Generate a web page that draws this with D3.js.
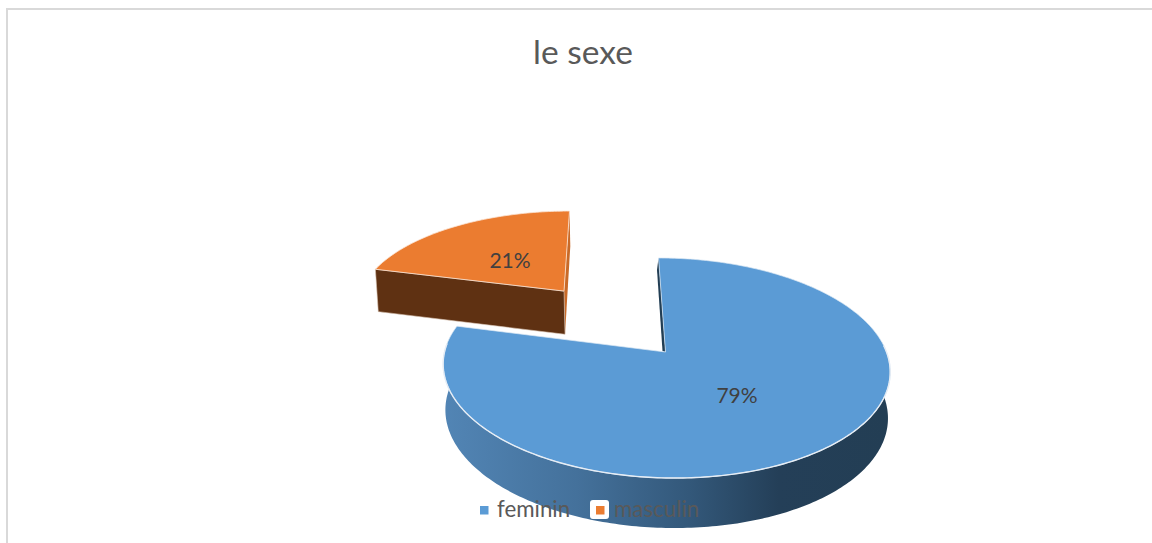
<!DOCTYPE html>
<html><head><meta charset="utf-8">
<script src="https://cdn.jsdelivr.net/npm/d3@7/dist/d3.min.js"></script>
<style>html,body{margin:0;padding:0;background:#fff}svg{display:block}text{font-family:Lato,"Open Sans",sans-serif}</style>
</head><body><svg id="c" width="1152" height="543"></svg>
<script>
const title = "le sexe";
const categories = ["feminin", "masculin"];
const values = [79, 21];
const labels = ["79%", "21%"];
const topColors = ["#5b9bd5", "#eb7c30"];

const W = 1152, H = 543;
const svg = d3.select("#c");
const defs = svg.append("defs");

// 3D pie model
const apex = [665.5, 352], P = 0.1455, KY = 107.7, KX = 221, SKEW = -8, DEPTH = 45.5, EXPLODE = [0, 0.78];

function project(X, Z, low) {
  const w = 1 + P * Z;
  let x = apex[0] + (KX * X + SKEW * Z) / w;
  let y = apex[1] - KY * Z / w;
  if (low) { x = apex[0] + (x - apex[0]) * 0.99; y += DEPTH / Math.pow(w, 0.6); }
  return [x, y];
}
const arcs = d3.pie().sort(null)(values);
const line = d3.line();

function arcPts(a0, a1, ox, oz, low) {
  const n = Math.max(2, Math.round(Math.abs(a1 - a0) * 60));
  return d3.range(n + 1).map(i => {
    const t = a0 + (a1 - a0) * i / n;
    return project(ox + Math.sin(t), oz + Math.cos(t), low);
  });
}
function offset(i) {
  const a = arcs[i], mid = (a.startAngle + a.endAngle) / 2, e = EXPLODE[i];
  return [e * Math.sin(mid), e * Math.cos(mid)];
}

// background frame
svg.append("rect").attr("width", W).attr("height", H).attr("fill", "#fff");
svg.append("path").attr("d", `M7,${H}V9H${W}`).attr("fill", "none").attr("stroke", "#d9d9d9").attr("stroke-width", 2);

// title
svg.append("text").attr("x", 583).attr("y", 64).attr("text-anchor", "middle")
  .attr("font-size", 33.5).attr("fill", "#595959").text(title);

// wall gradient of the big slice
const grad = defs.append("linearGradient").attr("id", "wall").attr("gradientUnits", "userSpaceOnUse")
  .attr("x1", 443).attr("x2", 890).attr("y1", 0).attr("y2", 0);
[[0, "#5285b5"], [0.3, "#44719b"], [0.55, "#33587a"], [0.75, "#243f58"], [1, "#233e54"]]
  .forEach(s => grad.append("stop").attr("offset", s[0]).attr("stop-color", s[1]));

// big slice (feminin): inner wall, outer wall, top
{
  const a = arcs[0], [ox, oz] = offset(0);
  const a0 = a.startAngle, a1 = a.endAngle;
  const apexTop = project(ox, oz, false);
  const startTop = project(ox + Math.sin(a0), oz + Math.cos(a0), false);
  const sliver = [apexTop, startTop, [startTop[0] - 1.5, startTop[1] + 12], [apexTop[0] - 3, apexTop[1] - 1]];
  svg.append("path").attr("d", line(sliver) + "Z").attr("fill", "#223e54");
  // outer wall: only the part facing the viewer
  const wa0 = Math.PI / 2 - 0.06, wa1 = 3 * Math.PI / 2 + 0.08;
  const upper = arcPts(wa0, wa1, ox, oz, false), lower = arcPts(wa0, wa1, ox, oz, true).reverse();
  svg.append("path").attr("d", line(upper.concat(lower)) + "Z").attr("fill", "url(#wall)");
  const topPts = [apexTop].concat(arcPts(a0, a1, ox, oz, false));
  svg.append("path").attr("d", line(topPts) + "Z").attr("fill", topColors[0])
    .attr("stroke", "#dbe8f4").attr("stroke-width", 0.7).attr("stroke-linejoin", "round");
  // bevel highlight along the front edge
  svg.append("path").attr("d", line(upper)).attr("fill", "none")
    .attr("stroke", "#e6edf5").attr("stroke-width", 1.4);
}

// exploded slice (masculin)
{
  const a = arcs[1], [ox, oz] = offset(1);
  const a0 = a.startAngle, a1 = a.endAngle;
  const apexTop = project(ox, oz, false), apexLow = project(ox, oz, true);
  const leftT = project(ox + Math.sin(a0), oz + Math.cos(a0), false);
  const leftL = project(ox + Math.sin(a0), oz + Math.cos(a0), true);
  const rightT = project(ox + Math.sin(a1), oz + Math.cos(a1), false);
  // thin side sliver
  svg.append("path").attr("d", line([rightT, [rightT[0] + 0.8, rightT[1] + 35], apexLow, apexTop]) + "Z").attr("fill", "#c96a28");
  svg.append("path").attr("d", line([leftT, apexTop, apexLow, leftL]) + "Z").attr("fill", "#5f3112")
    .attr("stroke", "#d8c4b4").attr("stroke-width", 0.6);
  const topPts = [apexTop].concat(arcPts(a0, a1, ox, oz, false));
  svg.append("path").attr("d", line(topPts) + "Z").attr("fill", topColors[1])
    .attr("stroke", "#fbe3d3").attr("stroke-width", 0.8).attr("stroke-linejoin", "round");
}

// data labels
const labelPos = [[737, 403], [510, 268]];
svg.selectAll("text.lab").data(labels).join("text").attr("class", "lab")
  .attr("x", (d, i) => labelPos[i][0]).attr("y", (d, i) => labelPos[i][1])
  .attr("text-anchor", "middle").attr("font-size", 21).attr("fill", "#404040").text(d => d);

// legend
const legendX = d3.scaleOrdinal().domain(categories).range([480, 596]);
const lg = svg.selectAll("g.leg").data(categories).join("g").attr("class", "leg")
  .attr("transform", d => `translate(${legendX(d)},510)`);
lg.filter((d, i) => i === 1).append("rect").attr("x", -6).attr("y", -10).attr("width", 19).attr("height", 19)
  .attr("rx", 3).attr("fill", "#fff");
lg.append("rect").attr("x", 0).attr("y", -4).attr("width", 8.5).attr("height", 8.5).attr("fill", (d, i) => topColors[i]);
lg.append("text").attr("x", (d, i) => i ? 18 : 17).attr("y", 7).attr("font-size", 22.3).attr("fill", "#595959").text(d => d);
</script></body></html>
